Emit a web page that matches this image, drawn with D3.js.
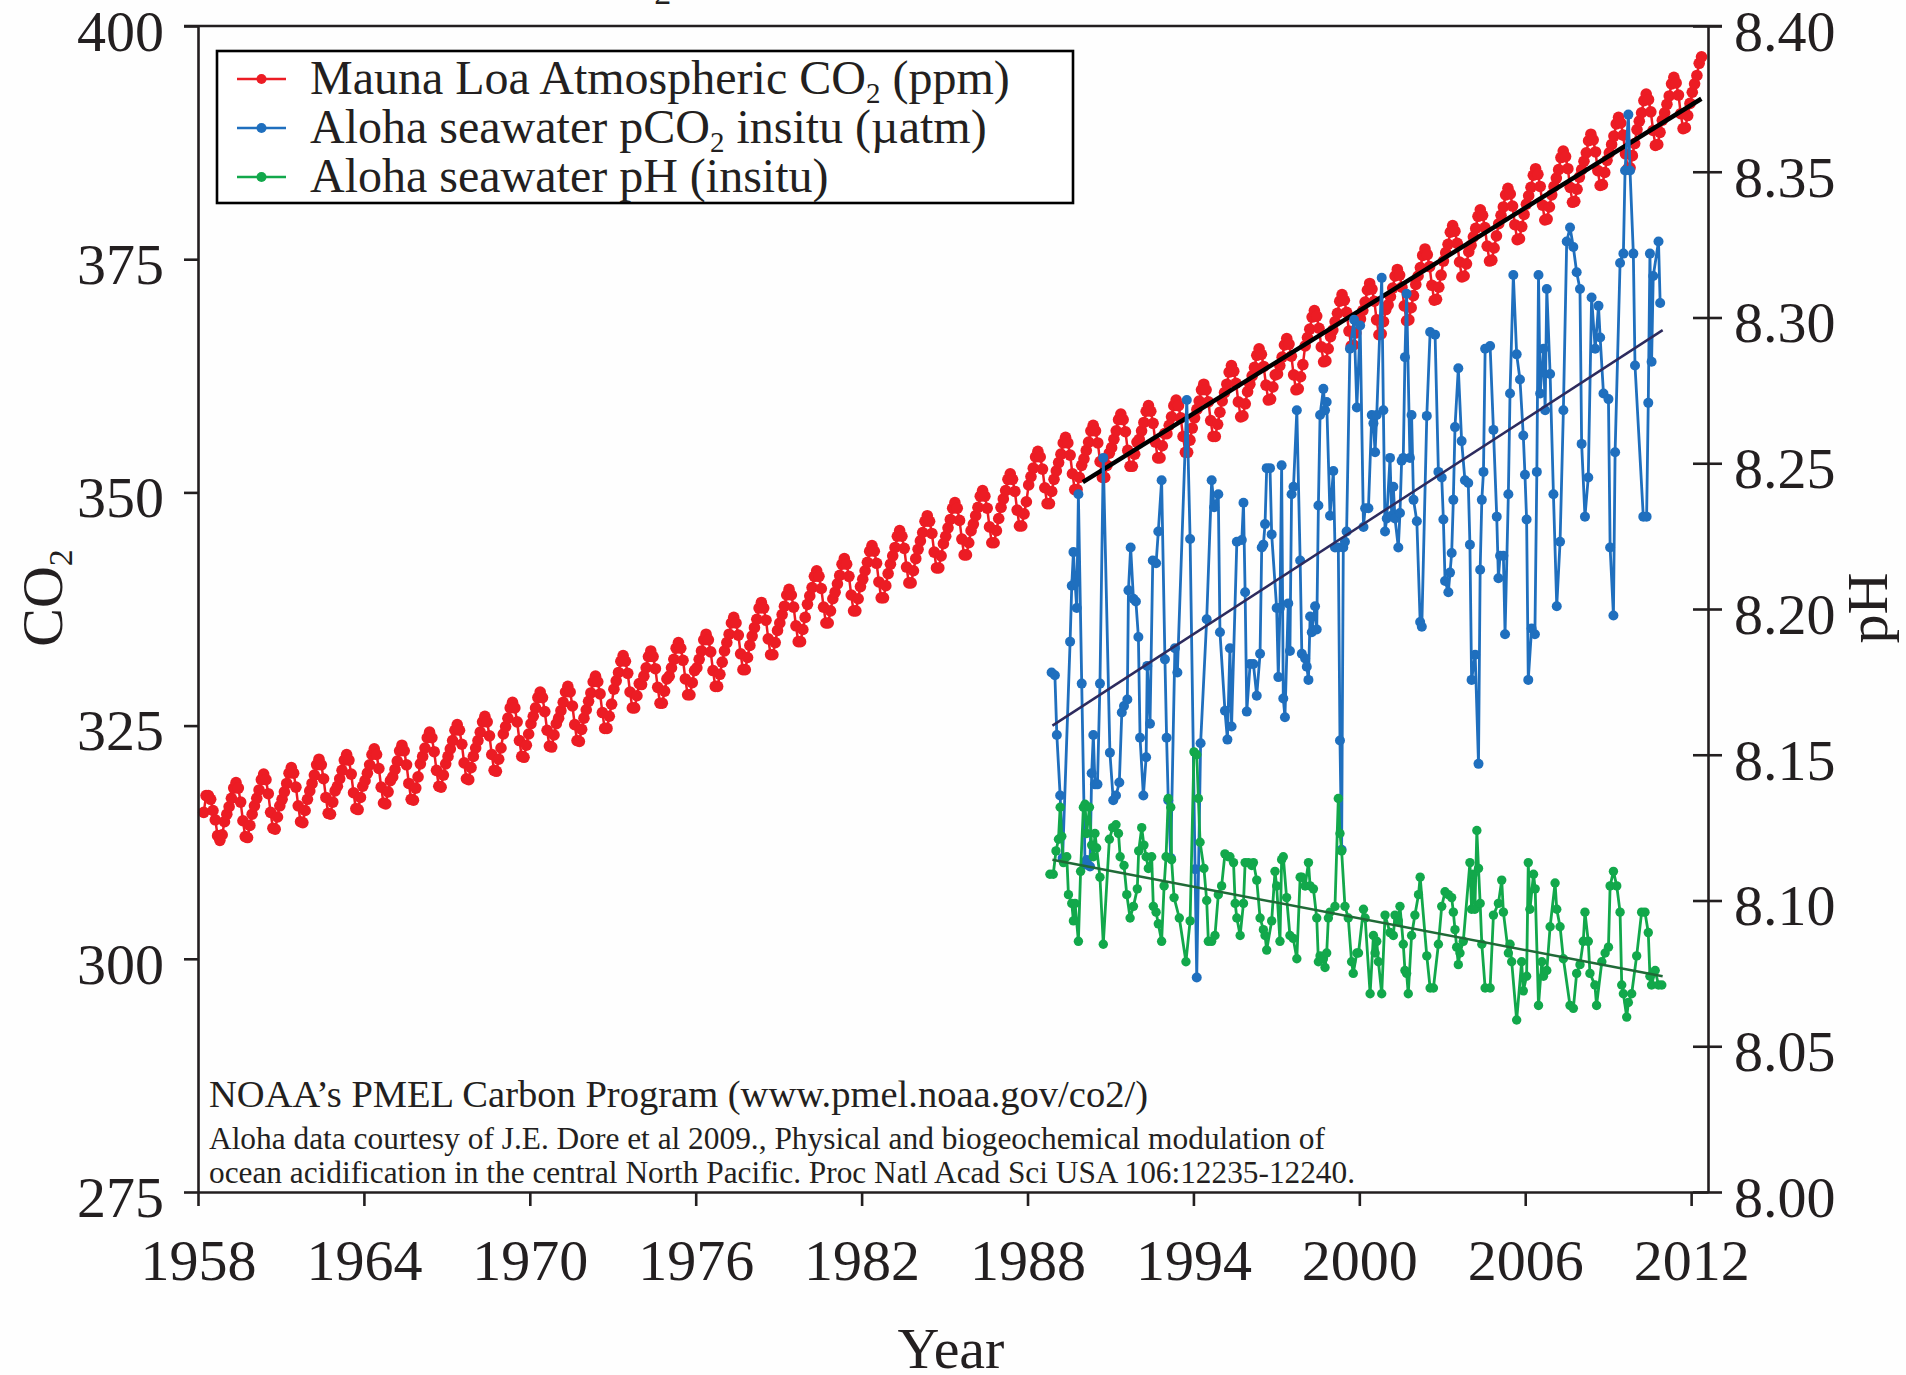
<!DOCTYPE html>
<html><head><meta charset="utf-8">
<script src="https://cdn.jsdelivr.net/npm/d3@7"></script>
<style>
body{margin:0;background:#fff}
svg{display:block}
text{font-family:"Liberation Serif","Times New Roman",serif;fill:#231f20}
</style>
</head><body>
<svg id="chart" width="1906" height="1375"></svg>
<script>
// ---------------- DATA ----------------
// Mauna Loa monthly CO2 (ppm), March 1958 .. May 2012
const maunaLoaStartYear = 1958, maunaLoaStartMonth = 3;
const maunaLoaCO2 = [
315.7,317.5,317.5,317.1,315.9,314.9,313.2,312.7,313.3,314.7,
315.5,316.3,317.2,318.3,318.9,318.3,316.8,314.8,313.1,313.0,314.3,315.5,
316.4,317.2,318.1,319.2,319.8,319.2,317.7,315.7,314.0,313.9,315.2,316.4,
317.1,317.9,318.8,319.9,320.5,319.9,318.4,316.4,314.7,314.6,315.9,317.1,
318.0,318.8,319.7,320.8,321.4,320.8,319.3,317.3,315.6,315.5,316.8,318.0,
318.5,319.3,320.2,321.3,321.9,321.3,319.8,317.8,316.1,316.0,317.3,318.5,
319.1,319.9,320.8,321.9,322.5,321.9,320.4,318.4,316.7,316.6,317.9,319.1,
319.5,320.3,321.2,322.3,322.9,322.3,320.8,318.8,317.1,317.0,318.3,319.5,
320.9,321.7,322.6,323.7,324.3,323.7,322.2,320.2,318.5,318.4,319.7,320.9,
321.7,322.5,323.4,324.5,325.1,324.5,323.0,321.0,319.3,319.2,320.5,321.7,
322.6,323.4,324.3,325.4,326.0,325.4,323.9,321.9,320.2,320.1,321.4,322.6,
324.1,324.9,325.8,326.9,327.5,326.9,325.4,323.4,321.7,321.6,322.9,324.1,
325.2,326.0,326.9,328.0,328.6,328.0,326.5,324.5,322.8,322.7,324.0,325.2,
325.8,326.6,327.5,328.6,329.2,328.6,327.1,325.1,323.4,323.3,324.6,325.8,
326.7,327.6,328.5,329.7,330.3,329.7,328.4,326.4,324.7,324.7,326.0,327.3,
328.9,329.8,330.7,331.9,332.5,331.9,330.6,328.6,326.9,326.9,328.2,329.5,
329.4,330.3,331.2,332.4,333.0,332.4,331.1,329.1,327.4,327.4,328.7,330.0,
330.3,331.2,332.1,333.3,333.9,333.3,332.0,330.0,328.3,328.3,329.6,330.9,
331.2,332.1,333.0,334.2,334.8,334.2,332.9,330.9,329.2,329.2,330.5,331.8,
333.0,333.9,334.8,336.0,336.6,336.0,334.7,332.7,331.0,331.0,332.3,333.6,
334.6,335.5,336.4,337.6,338.2,337.6,336.3,334.3,332.6,332.6,333.9,335.2,
336.0,336.9,337.8,339.0,339.6,339.0,337.7,335.7,334.0,334.0,335.3,336.6,
338.0,338.9,339.8,341.0,341.6,341.0,339.7,337.7,336.0,336.0,337.3,338.6,
339.3,340.2,341.1,342.3,342.9,342.3,341.0,339.0,337.3,337.3,338.6,339.9,
340.7,341.6,342.5,343.7,344.3,343.7,342.4,340.4,338.7,338.7,340.0,341.3,
342.3,343.2,344.1,345.3,345.9,345.3,344.0,342.0,340.3,340.3,341.6,342.9,
343.9,344.8,345.7,346.9,347.5,346.9,345.6,343.6,341.9,341.9,343.2,344.5,
345.3,346.2,347.1,348.3,348.9,348.3,347.0,345.0,343.3,343.3,344.6,345.9,
346.6,347.5,348.4,349.6,350.2,349.6,348.3,346.3,344.6,344.6,345.9,347.2,
348.4,349.3,350.2,351.4,352.0,351.4,350.1,348.1,346.4,346.4,347.7,349.0,
350.8,351.7,352.6,353.8,354.4,353.8,352.5,350.5,348.8,348.8,350.1,351.4,
352.3,353.2,354.1,355.3,355.9,355.3,354.0,352.0,350.3,350.3,351.6,352.9,
353.6,354.5,355.4,356.6,357.2,356.6,355.3,353.3,351.6,351.6,352.9,354.2,
354.8,355.7,356.6,357.8,358.4,357.8,356.5,354.5,352.8,352.8,354.1,355.4,
355.7,356.6,357.5,358.7,359.3,358.7,357.4,355.4,353.7,353.7,355.0,356.3,
356.3,357.2,358.1,359.3,359.9,359.3,358.0,356.0,354.3,354.3,355.6,356.9,
358.0,358.9,359.8,361.0,361.6,361.0,359.7,357.7,356.0,356.0,357.3,358.6,
359.8,360.7,361.6,362.9,363.6,363.0,361.7,359.7,358.1,358.2,359.5,360.8,
361.6,362.5,363.4,364.7,365.4,364.8,363.5,361.5,359.9,360.0,361.3,362.6,
362.7,363.6,364.5,365.8,366.5,365.9,364.6,362.6,361.0,361.1,362.4,363.7,
365.7,366.6,367.5,368.8,369.5,368.9,367.6,365.6,364.0,364.1,365.4,366.7,
367.4,368.3,369.2,370.5,371.2,370.6,369.3,367.3,365.7,365.8,367.1,368.4,
368.6,369.5,370.4,371.7,372.4,371.8,370.5,368.5,366.9,367.0,368.3,369.6,
370.1,371.0,371.9,373.2,373.9,373.3,372.0,370.0,368.4,368.5,369.8,371.1,
372.3,373.2,374.1,375.4,376.1,375.5,374.2,372.2,370.6,370.7,372.0,373.3,
374.8,375.7,376.6,377.9,378.6,378.0,376.7,374.7,373.1,373.2,374.5,375.8,
376.5,377.4,378.3,379.6,380.3,379.7,378.4,376.4,374.8,374.9,376.2,377.5,
378.8,379.7,380.6,381.9,382.6,382.0,380.7,378.7,377.1,377.2,378.5,379.8,
380.9,381.8,382.7,384.0,384.7,384.1,382.8,380.8,379.2,379.3,380.6,381.9,
382.8,383.7,384.6,385.9,386.6,386.0,384.7,382.7,381.1,381.2,382.5,383.8,
384.6,385.5,386.4,387.7,388.4,387.8,386.5,384.5,382.9,383.0,384.3,385.6,
386.4,387.3,388.2,389.5,390.2,389.6,388.3,386.3,384.7,384.8,386.1,387.4,
388.9,389.8,390.7,392.0,392.7,392.1,390.8,388.8,387.2,387.3,388.6,389.9,
390.7,391.6,392.5,393.8,394.5,393.9,392.6,390.6,389.0,389.1,390.4,391.7,
392.9,393.8,394.7,396.0,396.7
];

// Aloha seawater pCO2 insitu (uatm): [decimal year, value]
const alohaPco2 = [
[1988.87,330.7],[1988.99,330.4],[1989.06,324.0],[1989.18,317.5],[1989.27,310.8],[1989.54,334.0],[1989.60,340.0],[1989.66,343.6],[1989.72,340.3],[1989.78,337.6],[1989.84,349.8],[1989.96,329.5],
[1990.08,310.1],[1990.14,310.6],[1990.26,309.9],[1990.32,319.9],[1990.38,324.0],[1990.44,318.7],[1990.53,318.7],[1990.62,329.5],[1990.74,353.7],[1990.98,322.1],
[1991.10,317.0],[1991.20,317.5],[1991.32,318.9],[1991.41,326.4],[1991.49,327.1],[1991.61,327.8],[1991.65,339.5],[1991.73,344.1],[1991.83,338.6],[1991.92,338.3],
[1992.01,334.5],[1992.07,323.7],[1992.19,317.5],[1992.29,321.6],[1992.33,331.4],[1992.43,325.2],[1992.53,342.7],[1992.65,342.4],[1992.73,345.8],[1992.85,351.3],[1992.97,332.1],
[1993.03,323.7],[1993.09,317.0],[1993.18,310.8],[1993.33,333.3],[1993.42,330.7],[1993.76,359.9],[1993.88,345.0],
[1994.06,309.6],[1994.12,298.0],[1994.26,323.1],[1994.48,336.4],[1994.66,351.3],[1994.75,348.4],[1994.90,349.8],[1994.96,335.0],
[1995.14,326.6],[1995.23,323.5],[1995.32,333.3],[1995.38,324.9],[1995.57,344.7],[1995.75,344.9],[1995.81,348.9],[1995.87,339.3],[1995.93,326.5],
[1996.05,331.6],[1996.17,331.6],[1996.29,328.2],[1996.41,332.7],[1996.47,344.1],[1996.53,344.4],[1996.59,346.6],[1996.65,352.6],[1996.77,352.6],[1996.83,345.5],
[1997.01,337.6],[1997.07,330.2],[1997.13,337.6],[1997.19,352.9],[1997.25,327.9],[1997.31,325.9],[1997.43,338.1],[1997.49,333.0],[1997.55,349.8],[1997.62,350.6],[1997.74,358.8],[1997.86,342.7],[1997.92,332.7],
[1998.04,332.2],[1998.10,331.3],[1998.16,329.9],[1998.22,336.7],[1998.28,335.0],[1998.40,337.8],[1998.46,335.3],[1998.52,348.6],[1998.58,358.3],[1998.70,361.1],[1998.76,358.8],[1998.82,359.7],[1998.94,347.5],
[1999.06,352.3],[1999.12,344.1],[1999.24,344.1],[1999.30,323.4],[1999.36,311.7],[1999.42,344.1],[1999.48,344.7],[1999.54,345.8],[1999.66,365.4],[1999.81,368.5],[1999.91,359.1],
[2000.03,367.9],[2000.15,346.3],[2000.21,348.3],[2000.33,348.3],[2000.45,358.3],[2000.51,357.4],[2000.57,354.3],[2000.63,358.3],[2000.81,373.0],[2000.87,358.8],[2000.93,345.8],[2000.99,347.2],
[2001.11,353.7],[2001.17,347.5],[2001.23,350.6],[2001.29,347.2],[2001.41,344.1],[2001.47,347.8],[2001.53,353.4],[2001.59,353.7],[2001.65,364.5],[2001.71,371.3],[2001.83,353.7],[2001.89,358.3],[2001.96,349.2],
[2002.08,346.9],[2002.20,336.1],[2002.26,335.6],[2002.44,358.2],[2002.56,367.2],[2002.74,366.9],[2002.86,352.2],[2002.98,351.6],
[2003.04,347.1],[2003.10,340.5],[2003.22,339.3],[2003.28,341.4],[2003.34,343.5],[2003.40,349.2],[2003.46,357.0],[2003.58,363.3],[2003.70,355.5],[2003.82,351.3],[2003.94,351.0],
[2004.00,344.4],[2004.06,329.9],[2004.19,332.6],[2004.31,320.9],[2004.37,341.7],[2004.43,349.2],[2004.49,352.2],[2004.55,365.4],[2004.73,365.7],[2004.85,356.7],[2004.97,347.4],
[2005.03,340.8],[2005.09,343.2],[2005.21,343.2],[2005.27,334.8],[2005.39,349.8],[2005.45,360.6],[2005.57,373.3],[2005.69,364.8],[2005.81,362.1],[2005.93,356.1],[2005.99,351.9],
[2006.05,347.1],[2006.11,329.9],[2006.23,335.4],[2006.35,334.8],[2006.42,352.2],[2006.48,373.3],[2006.54,360.6],[2006.66,365.4],[2006.72,358.8],[2006.78,371.8],[2006.90,362.7],
[2007.02,349.8],[2007.14,337.8],[2007.26,344.7],[2007.38,358.8],[2007.50,376.9],[2007.62,378.4],[2007.74,376.3],[2007.86,373.6],[2007.98,371.8],
[2008.04,355.2],[2008.16,347.4],[2008.28,351.6],[2008.40,370.9],[2008.53,365.4],[2008.65,370.0],[2008.71,366.6],[2008.83,360.6],
[2009.01,360.0],[2009.07,344.1],[2009.19,336.8],[2009.25,354.3],[2009.43,374.6],[2009.55,375.6],[2009.61,384.5],[2009.73,390.5],[2009.79,384.5],[2009.91,375.6],[2009.97,363.6],
[2010.27,347.4],[2010.39,347.4],[2010.45,359.6],[2010.51,375.6],[2010.57,364.0],[2010.63,373.2],[2010.82,376.9],[2010.88,370.3]
];

// Aloha seawater pH (insitu): [decimal year, value]
const alohaPh = [
[1988.81,8.109],[1988.93,8.109],[1989.03,8.117],[1989.12,8.121],[1989.18,8.132],[1989.24,8.122],[1989.30,8.113],[1989.42,8.115],[1989.48,8.102],[1989.60,8.099],[1989.66,8.093],[1989.72,8.099],[1989.84,8.086],[1989.92,8.110],
[1990.02,8.132],[1990.08,8.133],[1990.14,8.123],[1990.24,8.132],[1990.32,8.119],[1990.38,8.115],[1990.44,8.123],[1990.50,8.118],[1990.62,8.108],[1990.74,8.085],[1990.96,8.121],
[1991.08,8.125],[1991.20,8.126],[1991.29,8.123],[1991.35,8.115],[1991.49,8.112],[1991.59,8.102],[1991.71,8.094],[1991.83,8.098],[1991.97,8.104],
[1992.02,8.117],[1992.13,8.125],[1992.21,8.119],[1992.29,8.115],[1992.37,8.111],[1992.49,8.115],[1992.55,8.098],[1992.65,8.096],[1992.73,8.092],[1992.85,8.086],[1992.94,8.105],
[1993.01,8.115],[1993.09,8.135],[1993.18,8.132],[1993.21,8.114],[1993.30,8.101],[1993.49,8.094],[1993.73,8.079],[1993.88,8.093],
[1994.02,8.151],[1994.12,8.150],[1994.18,8.135],[1994.24,8.120],[1994.38,8.111],[1994.48,8.100],[1994.54,8.086],[1994.66,8.086],[1994.78,8.088],[1994.90,8.102],
[1995.02,8.105],[1995.14,8.116],[1995.26,8.115],[1995.32,8.115],[1995.45,8.113],[1995.51,8.099],[1995.57,8.094],[1995.69,8.088],[1995.81,8.099],[1995.87,8.113],[1995.99,8.113],
[1996.11,8.112],[1996.17,8.113],[1996.29,8.107],[1996.41,8.094],[1996.53,8.090],[1996.59,8.088],[1996.65,8.083],[1996.83,8.093],[1996.95,8.110],
[1997.01,8.105],[1997.13,8.086],[1997.19,8.114],[1997.25,8.115],[1997.37,8.101],[1997.49,8.088],[1997.61,8.087],[1997.74,8.080],[1997.86,8.108],[1997.92,8.108],
[1998.04,8.105],[1998.16,8.113],[1998.22,8.105],[1998.34,8.104],[1998.46,8.094],[1998.52,8.079],[1998.58,8.081],[1998.70,8.080],[1998.76,8.077],[1998.82,8.082],[1998.88,8.094],[1998.94,8.096],
[1999.12,8.098],[1999.24,8.135],[1999.30,8.123],[1999.36,8.117],[1999.48,8.098],[1999.60,8.094],[1999.72,8.079],[1999.78,8.075],[1999.91,8.082],[1999.97,8.082],
[2000.15,8.097],[2000.21,8.094],[2000.39,8.068],[2000.51,8.088],[2000.57,8.082],[2000.63,8.086],[2000.69,8.079],[2000.81,8.068],[2000.93,8.095],
[2001.11,8.089],[2001.23,8.088],[2001.29,8.095],[2001.41,8.093],[2001.47,8.098],[2001.59,8.085],[2001.65,8.076],[2001.71,8.075],[2001.77,8.068],[2001.89,8.088],
[2002.01,8.095],[2002.14,8.102],[2002.20,8.108],[2002.44,8.081],[2002.56,8.070],[2002.68,8.070],[2002.86,8.085],[2002.98,8.098],
[2003.10,8.103],[2003.22,8.102],[2003.34,8.101],[2003.40,8.096],[2003.46,8.090],[2003.52,8.084],[2003.58,8.078],[2003.64,8.082],[2003.76,8.086],
[2004.00,8.113],[2004.06,8.097],[2004.12,8.109],[2004.18,8.097],[2004.25,8.124],[2004.31,8.111],[2004.37,8.099],[2004.43,8.085],[2004.55,8.070],[2004.73,8.070],[2004.85,8.095],
[2005.03,8.099],[2005.15,8.107],[2005.21,8.096],[2005.39,8.082],[2005.45,8.085],[2005.51,8.079],[2005.69,8.059],[2005.87,8.079],[2005.93,8.069],
[2006.05,8.074],[2006.11,8.113],[2006.17,8.097],[2006.30,8.109],[2006.36,8.104],[2006.48,8.064],[2006.60,8.079],[2006.66,8.074],[2006.78,8.076],[2006.90,8.091],
[2007.08,8.106],[2007.14,8.097],[2007.26,8.091],[2007.38,8.080],[2007.62,8.064],[2007.74,8.063],[2007.86,8.075],[2007.98,8.078],
[2008.10,8.086],[2008.16,8.096],[2008.28,8.086],[2008.34,8.075],[2008.52,8.071],[2008.58,8.064],[2008.77,8.079],[2008.89,8.082],
[2009.01,8.084],[2009.07,8.105],[2009.19,8.110],[2009.31,8.105],[2009.43,8.096],[2009.49,8.071],[2009.55,8.068],[2009.67,8.060],[2009.73,8.065],[2009.85,8.068],
[2010.03,8.081],[2010.21,8.096],[2010.33,8.096],[2010.45,8.089],[2010.51,8.074],[2010.57,8.071],[2010.70,8.076],[2010.82,8.071],[2010.94,8.071]
];

// Linear trend lines: [decimal year, value]
const trendMaunaLoa = [[1990.0,351.1],[2012.37,392.2]];
const trendAlohaPco2 = [[1988.9,325.0],[2010.97,367.4]];
const trendAlohaPh = [[1988.9,8.114],[2010.97,8.074]];

// Ticks and labels
const yearTicks = [1958,1964,1970,1976,1982,1988,1994,2000,2006,2012];
const co2Ticks = [275,300,325,350,375,400];
const phTicks = [8.00,8.05,8.10,8.15,8.20,8.25,8.30,8.35,8.40];
const legendNames = ["Mauna Loa Atmospheric CO|2| (ppm)","Aloha seawater pCO|2| insitu (\u00b5atm)","Aloha seawater pH (insitu)"];
const seriesColors = ["#ec1c24","#1f6fbe","#12a84b"];
const sourceLines = [
 "NOAA\u2019s PMEL Carbon Program (www.pmel.noaa.gov/co2/)",
 "Aloha data courtesy of J.E. Dore et al 2009., Physical and biogeochemical modulation of",
 "ocean acidification in the central North Pacific. Proc Natl Acad Sci USA 106:12235-12240."
];

// ---------------- CHART ----------------
const svg = d3.select("#chart");
const L = 198, R = 1708, T = 26, B = 1192;
const x = d3.scaleLinear().domain([1958, 2012.61]).range([L, R]);
const yL = d3.scaleLinear().domain([275, 400]).range([B, T]);
const yR = d3.scaleLinear().domain([8.0, 8.4]).range([B, T]);
const ink = "#231f20";

svg.append("rect").attr("width",1906).attr("height",1375).attr("fill","#fefefe");

// cut-off title remnant at top edge
const ttl = svg.append("text").attr("x",575).attr("y",-6).style("font-size","57px");
ttl.append("tspan").text("CO");
ttl.append("tspan").attr("dy",10).style("font-size","34px").text("2");

const mlData = maunaLoaCO2.map((v,i)=>[maunaLoaStartYear + (maunaLoaStartMonth-1 + i + 0.5)/12, v]);

const lineL = d3.line().x(d=>x(d[0])).y(d=>yL(d[1]));
const lineR = d3.line().x(d=>x(d[0])).y(d=>yR(d[1]));

// Mauna Loa
svg.append("path").datum(mlData).attr("d",lineL).attr("fill","none").attr("stroke",seriesColors[0]).attr("stroke-width",2.5);
svg.append("g").selectAll("circle").data(mlData).join("circle")
  .attr("cx",d=>x(d[0])).attr("cy",d=>yL(d[1])).attr("r",5.8).attr("fill",seriesColors[0]);
svg.append("path").datum(trendMaunaLoa).attr("d",lineL).attr("fill","none").attr("stroke","#000").attr("stroke-width",4.5);

// Aloha pCO2
svg.append("path").datum(alohaPco2).attr("d",lineL).attr("fill","none").attr("stroke",seriesColors[1]).attr("stroke-width",2.8).attr("stroke-linejoin","round");
svg.append("g").selectAll("circle").data(alohaPco2).join("circle")
  .attr("cx",d=>x(d[0])).attr("cy",d=>yL(d[1])).attr("r",5).attr("fill",seriesColors[1]);
svg.append("path").datum(trendAlohaPco2).attr("d",lineL).attr("fill","none").attr("stroke","#2d2b5e").attr("stroke-width",2.5);

// Aloha pH
svg.append("path").datum(alohaPh).attr("d",lineR).attr("fill","none").attr("stroke",seriesColors[2]).attr("stroke-width",2.8).attr("stroke-linejoin","round");
svg.append("g").selectAll("circle").data(alohaPh).join("circle")
  .attr("cx",d=>x(d[0])).attr("cy",d=>yR(d[1])).attr("r",4.7).attr("fill",seriesColors[2]);
svg.append("path").datum(trendAlohaPh).attr("d",lineR).attr("fill","none").attr("stroke","#1f6a37").attr("stroke-width",2.5);

// Axes
function styleAxis(g){
  g.selectAll("path.domain").attr("stroke",ink).attr("stroke-width",2.6);
  g.selectAll(".tick line").attr("stroke",ink).attr("stroke-width",2.6);
  g.selectAll(".tick text").attr("fill",ink).style("font-size","58px").style("font-family",'"Liberation Serif","Times New Roman",serif');
}
const axL = svg.append("g").attr("transform",`translate(${L},0)`)
  .call(d3.axisLeft(yL).tickValues(co2Ticks).tickSize(14).tickSizeOuter(0).tickPadding(20).tickFormat(d3.format("d")));
styleAxis(axL); axL.selectAll(".tick text").attr("dy","0.42em");

const axR = svg.append("g").attr("transform",`translate(${R},0)`)
  .call(d3.axisRight(yR).tickValues(phTicks).tickSize(14).tickSizeOuter(0).tickPadding(12).tickFormat(d3.format(".2f")));
styleAxis(axR); axR.selectAll(".tick line").attr("x1",-15); axR.selectAll(".tick text").attr("dy","0.42em");

const axB = svg.append("g").attr("transform",`translate(0,${B})`)
  .call(d3.axisBottom(x).tickValues(yearTicks).tickSize(14).tickSizeOuter(0).tickPadding(33).tickFormat(d3.format("d")));
styleAxis(axB);

// top frame line
svg.append("line").attr("x1",L-14).attr("x2",R+14).attr("y1",T).attr("y2",T).attr("stroke",ink).attr("stroke-width",2.6);

// Axis titles
const tL = svg.append("text").attr("transform","translate(62,598) rotate(-90)").attr("text-anchor","middle").style("font-size","58px");
tL.append("tspan").text("CO");
tL.append("tspan").attr("dy",10).style("font-size","34px").text("2");
svg.append("text").attr("transform","translate(1887,608) rotate(-90)").attr("text-anchor","middle").style("font-size","58px").text("pH");
svg.append("text").attr("x",951).attr("y",1368).attr("text-anchor","middle").style("font-size","58px").text("Year");

// Legend
const lg = svg.append("g");
lg.append("rect").attr("x",217).attr("y",51).attr("width",856).attr("height",152).attr("fill","#fff").attr("stroke","#000").attr("stroke-width",2.6);
legendNames.forEach((name,i)=>{
  const cy = 79 + i*49;
  lg.append("line").attr("x1",237).attr("x2",286).attr("y1",cy).attr("y2",cy).attr("stroke",seriesColors[i]).attr("stroke-width",2.5);
  lg.append("circle").attr("cx",261.5).attr("cy",cy).attr("r",5).attr("fill",seriesColors[i]);
  const t = lg.append("text").attr("x",310).attr("y",94 + i*49).style("font-size","48px");
  const parts = name.split("|");
  parts.forEach((p,j)=>{
    if (j % 2 === 1) t.append("tspan").attr("dy",9).style("font-size","29px").text(p);
    else t.append("tspan").attr("dy", j>0 ? -9 : 0).text(p);
  });
});

// Source notes
const srcSizes = [38.5, 31.5, 31.5], srcY = [1107, 1149, 1183], srcLen = [939, 1116, 1146];
sourceLines.forEach((s,i)=>{
  svg.append("text").attr("x",209).attr("y",srcY[i]).style("font-size",srcSizes[i]+"px")
    .attr("textLength",srcLen[i]).attr("lengthAdjust","spacingAndGlyphs").text(s);
});
</script>
</body></html>
